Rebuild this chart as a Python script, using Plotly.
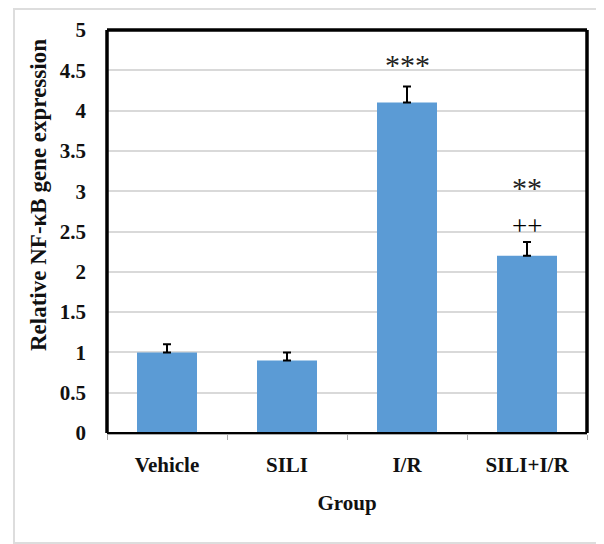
import plotly.graph_objects as go

categories = ["Vehicle", "SILI", "I/R", "SILI+I/R"]
values = [1.0, 0.9, 4.1, 2.2]
errors = [0.1, 0.1, 0.2, 0.17]
sig_labels = ["", "", "***", "**"]
sig_y = [None, None, 4.57, 3.05]
sig2_labels = ["", "", "", "++"]
sig2_y = [None, None, None, 2.57]

W, H = 596, 536
L, R, T, B = 99, 17, 22, 111
pw, ph = W - L - R, H - T - B

fig = go.Figure()
fig.add_trace(go.Bar(
    x=categories, y=values,
    marker=dict(color="#5B9BD5", line=dict(width=0)),
    error_y=dict(type="data", array=errors, arrayminus=[0]*len(errors), symmetric=False,
                 color="#000000", thickness=2, width=4),
    width=0.5,
))

for c, lab, yy in zip(categories, sig_labels, sig_y):
    if lab:
        fig.add_annotation(x=c, y=yy, text=lab, showarrow=False,
                           font=dict(family="Liberation Serif", size=30, color="#222"))
for c, lab, yy in zip(categories, sig2_labels, sig2_y):
    if lab:
        fig.add_annotation(x=c, y=yy, text=lab, showarrow=False,
                           font=dict(family="Liberation Serif", size=27, color="#000000"))

# y-axis title as rotated annotation (figure pixel position)
tx, ty = 30, 187
fig.add_annotation(xref="paper", yref="paper", x=(tx - L) / pw, y=(H - B - ty) / ph,
                   text="<b>Relative NF-κB gene expression</b>", textangle=-90,
                   showarrow=False, xanchor="center", yanchor="middle",
                   font=dict(family="Liberation Serif", size=23, color="#111"))

# outer light frame (in figure pixels)
fx0, fx1, fy0, fy1 = 6, 593, 1, 535
fig.add_shape(type="rect", xref="paper", yref="paper",
              x0=(fx0 - L) / pw, x1=(fx1 - L) / pw,
              y0=(H - B - fy1) / ph, y1=(H - B - fy0) / ph,
              line=dict(color="#dddddd", width=2), layer="below")
# plot frame
fig.add_shape(type="line", xref="paper", yref="paper", x0=0, x1=0, y0=0, y1=1,
              line=dict(color="black", width=3.5))
fig.add_shape(type="line", xref="paper", yref="paper", x0=0, x1=1, y0=1, y1=1,
              line=dict(color="black", width=3.5))
fig.add_shape(type="line", xref="paper", yref="paper", x0=1, x1=1, y0=0, y1=1,
              line=dict(color="black", width=3.5))
fig.add_shape(type="line", xref="paper", yref="paper", x0=0, x1=1, y0=0, y1=0,
              line=dict(color="black", width=2))

fig.update_layout(
    width=W, height=H,
    margin=dict(l=L, r=R, t=T, b=B),
    paper_bgcolor="white", plot_bgcolor="white",
    showlegend=False,
    font=dict(family="Liberation Serif", color="#111"),
    xaxis=dict(
        type="category", tickson="boundaries", ticks="outside", ticklen=5, tickcolor="#aaaaaa",
        showline=True, linecolor="#aaaaaa", linewidth=1.5,
        ticklabelstandoff=12,
        tickfont=dict(family="Liberation Serif", size=21, color="#111", weight="bold"),
        title=dict(text="<b>Group</b>", font=dict(family="Liberation Serif", size=21, color="#111"),
                   standoff=19),
        showgrid=False, automargin=False,
    ),
    yaxis=dict(
        range=[0, 5], dtick=0.5,
        showgrid=True, gridcolor="#d9d9d9", gridwidth=1.5,
        zeroline=False, showline=False,
        ticks="", ticklabelstandoff=20,
        tickfont=dict(family="Liberation Serif", size=21, color="#111", weight="bold"),
        automargin=False,
    ),
)

fig.write_html("out.html")
